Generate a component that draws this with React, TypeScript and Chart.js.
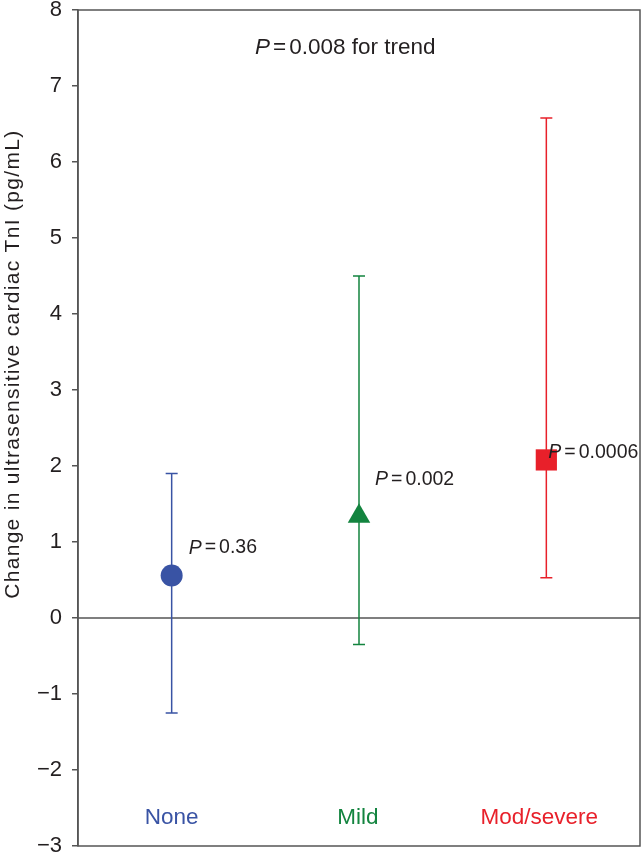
import React, { useEffect, useRef } from "react";
import { Chart, registerables } from "chart.js";

Chart.register(...registerables);

const categories = ["None", "Mild", "Mod/severe"];
const means = [0.56, 1.34, 2.08];
const lowerCI = [-1.25, -0.35, 0.53];
const upperCI = [1.9, 4.5, 6.58];
const pValues = ["0.36", "0.002", "0.0006"];
const pLabelY = [0.92, 1.82, 2.18];
const trendText = "0.008 for trend";
const yTicks = [-3, -2, -1, 0, 1, 2, 3, 4, 5, 6, 7, 8];
const yTitle = "Change in ultrasensitive cardiac TnI (pg/mL)";

const colors = ["#3953a4", "#13843f", "#e8202a"];
const pointStyles = ["circle", "triangle", "rect"];
const pointRadii = [11, 13, 15];
const FONT = "'Liberation Sans', Arial, sans-serif";
const AXIS = "#555555";
const TEXT = "#231f20";

function drawP(ctx: CanvasRenderingContext2D, x: number, y: number, rest: string, size: number) {
  ctx.save();
  ctx.textBaseline = "middle";
  ctx.textAlign = "left";
  ctx.fillStyle = TEXT;
  ctx.font = `italic ${size}px ${FONT}`;
  ctx.fillText("P", x, y);
  let cx = x + ctx.measureText("P").width + 3;
  ctx.font = `${size}px ${FONT}`;
  ctx.fillText("=", cx, y);
  cx += ctx.measureText("=").width + 3;
  ctx.fillText(rest, cx, y);
  ctx.restore();
}

const overlay = {
  id: "overlay",
  beforeDatasetsDraw(chart: any) {
    const { ctx, chartArea, scales } = chart;
    const xs = scales.x;
    const ys = scales.y;
    ctx.save();
    ctx.strokeStyle = AXIS;
    ctx.lineWidth = 1.5;
    ctx.beginPath();
    const y0 = ys.getPixelForValue(0);
    ctx.moveTo(chartArea.left, y0);
    ctx.lineTo(chartArea.right, y0);
    ctx.stroke();
    for (let i = 0; i < categories.length; i++) {
      const x = xs.getPixelForValue(i);
      const yt = ys.getPixelForValue(upperCI[i]);
      const yb = ys.getPixelForValue(lowerCI[i]);
      ctx.strokeStyle = colors[i];
      ctx.lineWidth = 1.5;
      ctx.beginPath();
      ctx.moveTo(x, yt);
      ctx.lineTo(x, yb);
      ctx.moveTo(x - 6, yt);
      ctx.lineTo(x + 6, yt);
      ctx.moveTo(x - 6, yb);
      ctx.lineTo(x + 6, yb);
      ctx.stroke();
    }
    ctx.restore();
  },
  afterDraw(chart: any) {
    const { ctx, chartArea, scales } = chart;
    const xs = scales.x;
    const ys = scales.y;
    ctx.save();
    ctx.strokeStyle = AXIS;
    ctx.lineWidth = 1.5;
    ctx.strokeRect(chartArea.left, chartArea.top, chartArea.right - chartArea.left, chartArea.bottom - chartArea.top);
    ctx.font = `22.5px ${FONT}`;
    ctx.textAlign = "center";
    ctx.textBaseline = "middle";
    const catOffs = [0, -1, -7];
    for (let i = 0; i < categories.length; i++) {
      ctx.fillStyle = colors[i];
      ctx.fillText(categories[i], xs.getPixelForValue(i) + catOffs[i], ys.getPixelForValue(-2.63));
    }
    const offs = [17, 16, 2];
    for (let i = 0; i < categories.length; i++) {
      drawP(ctx, xs.getPixelForValue(i) + offs[i], ys.getPixelForValue(pLabelY[i]), pValues[i], 19.5);
    }
    drawP(ctx, xs.getPixelForValue(1) - 104, ys.getPixelForValue(7.5), trendText, 22.5);
    ctx.save();
    ctx.translate(13, ys.getPixelForValue(3.34));
    ctx.rotate(-Math.PI / 2);
    ctx.font = `21px ${FONT}`;
    (ctx as any).letterSpacing = "1.3px";
    ctx.fillStyle = TEXT;
    ctx.textAlign = "center";
    ctx.textBaseline = "middle";
    ctx.fillText(yTitle, 0, 0);
    ctx.restore();
    ctx.restore();
  },
};

export default function App() {
  const ref = useRef<HTMLCanvasElement | null>(null);
  useEffect(() => {
    if (!ref.current) return;
    const chart = new Chart(ref.current, {
      type: "line",
      data: {
        labels: categories,
        datasets: [
          {
            data: means,
            showLine: false,
            pointStyle: pointStyles as any,
            pointRadius: pointRadii,
            pointHoverRadius: pointRadii,
            pointBackgroundColor: colors,
            pointBorderColor: colors,
            pointBorderWidth: 0,
            clip: false as any,
          },
        ],
      },
      options: {
        responsive: false,
        animation: false,
        layout: { autoPadding: false, padding: { left: 0, top: 10, right: 1, bottom: 7 } },
        plugins: { legend: { display: false }, tooltip: { enabled: false } },
        scales: {
          x: { type: "category", offset: true, display: false },
          y: {
            min: -3,
            max: 8,
            afterFit: (s: any) => {
              s.width = 78;
              s.paddingTop = 0;
              s.paddingBottom = 0;
              s.paddingLeft = 0;
              s.paddingRight = 0;
            },
            afterBuildTicks: (s: any) => {
              s.ticks = yTicks.map((v) => ({ value: v }));
            },
            border: { display: true, color: AXIS, width: 1.5 },
            grid: { display: true, drawOnChartArea: false, drawTicks: true, tickLength: 6, color: AXIS, lineWidth: 1.5 },
            ticks: {
              padding: 10,
              color: TEXT,
              font: { family: FONT, size: 22 },
              callback: (v: any) => (Number(v) < 0 ? "\u2212" + Math.abs(Number(v)) : String(v)),
            },
          },
        },
      },
      plugins: [overlay],
    });
    return () => chart.destroy();
  }, []);
  return (
    <div style={{ position: "absolute", left: 0, top: 0, width: 641, height: 853, background: "#fff" }}>
      <canvas ref={ref} width={641} height={853} />
    </div>
  );
}
